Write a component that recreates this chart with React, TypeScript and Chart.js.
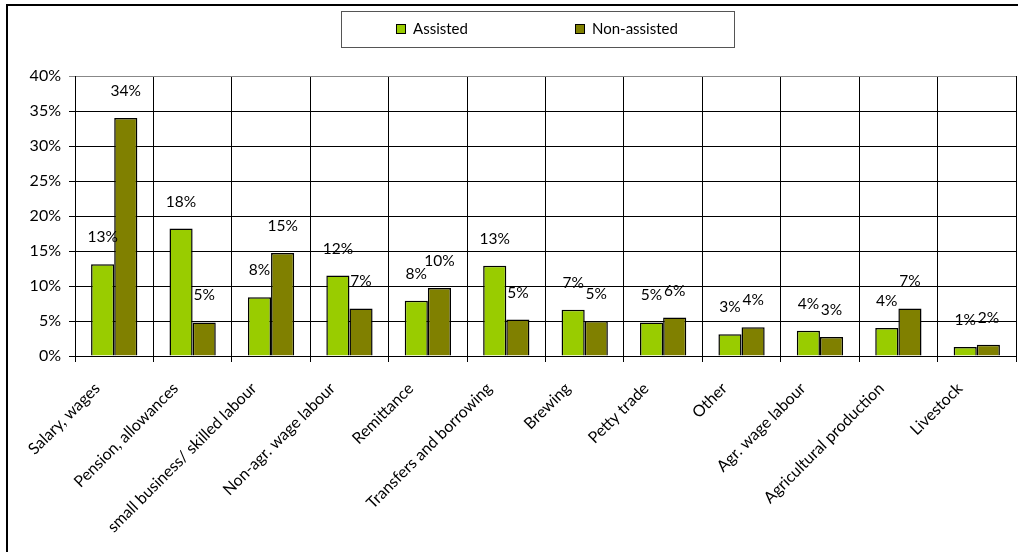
import React, { useEffect, useRef } from "react";
import { Chart, registerables } from "chart.js";

Chart.register(...registerables);

const categories = [
  "Salary, wages",
  "Pension, allowances",
  "small business/ skilled labour",
  "Non-agr. wage labour",
  "Remittance",
  "Transfers and borrowing",
  "Brewing",
  "Petty trade",
  "Other",
  "Agr. wage labour",
  "Agricultural production",
  "Livestock",
];
const seriesNames = ["Assisted", "Non-assisted"];
const assisted = [13.1, 18.2, 8.4, 11.5, 7.9, 12.9, 6.6, 4.8, 3.1, 3.6, 4.0, 1.3];
const nonAssisted = [34.0, 4.8, 14.7, 6.8, 9.7, 5.2, 5.0, 5.5, 4.1, 2.7, 6.8, 1.6];
const yTicks = [0, 5, 10, 15, 20, 25, 30, 35, 40];

const FONT = 'Lato, "Gill Sans", "Open Sans", sans-serif';
const COLORS = ["#99CC00", "#808000"];

const valueLabels = {
  id: "valueLabels",
  afterDatasetsDraw(chart: any) {
    const ctx = chart.ctx;
    ctx.save();
    ctx.font = `15.5px ${FONT}`;
    ctx.fillStyle = "#000";
    ctx.textAlign = "center";
    ctx.textBaseline = "middle";
    chart.data.datasets.forEach((ds: any, di: number) => {
      const meta = chart.getDatasetMeta(di);
      meta.data.forEach((bar: any, i: number) => {
        const v = ds.data[i];
        ctx.fillText(Math.round(v) + "%", bar.x, bar.y - 27);
      });
    });
    ctx.restore();
  },
};

const boxLegend = {
  id: "boxLegend",
  afterDraw(chart: any) {
    const ctx = chart.ctx;
    const left = 341, top = 11, w = 393, h = 36;
    ctx.save();
    ctx.fillStyle = "#fff";
    ctx.fillRect(left, top, w, h);
    ctx.strokeStyle = "#555";
    ctx.lineWidth = 1;
    ctx.strokeRect(left + 0.5, top + 0.5, w, h);
    ctx.font = `15px ${FONT}`;
    ctx.textBaseline = "middle";
    ctx.textAlign = "left";
    const offsets = [55, 234];
    chart.data.datasets.forEach((ds: any, i: number) => {
      const x = left + offsets[i];
      const y = top + 18;
      ctx.fillStyle = ds.backgroundColor;
      ctx.fillRect(x, y - 5, 9, 9);
      ctx.strokeStyle = "#000";
      ctx.strokeRect(x + 0.5, y - 4.5, 9, 9);
      ctx.fillStyle = "#000";
      ctx.fillText(ds.label, x + 17, y);
    });
    ctx.restore();
  },
};

export default function App() {
  const ref = useRef<HTMLCanvasElement>(null);
  useEffect(() => {
    const chart = new Chart(ref.current!, {
      type: "bar",
      data: {
        labels: categories,
        datasets: [
          {
            label: seriesNames[0],
            data: assisted,
            backgroundColor: COLORS[0],
            borderColor: "#000",
            borderWidth: 1.5,
          },
          {
            label: seriesNames[1],
            data: nonAssisted,
            backgroundColor: COLORS[1],
            borderColor: "#000",
            borderWidth: 1.5,
          },
        ],
      },
      options: {
        animation: false,
        responsive: false,
        maintainAspectRatio: false,
        layout: { padding: { top: 76, right: 2, left: 0, bottom: 0 } },
        datasets: { bar: { categoryPercentage: 0.59, barPercentage: 1 } },
        plugins: {
          legend: { display: false },
          tooltip: { enabled: false },
        },
        scales: {
          x: {
            afterFit: (s: any) => {
              s.height = 196;
            },
            grid: {
              offset: true,
              color: (c: any) => (c.index === categories.length ? "#888" : "#000"),
              tickLength: 6,
              lineWidth: 1,
            },
            border: { color: "#000", width: 1 },
            ticks: {
              autoSkip: false,
              minRotation: 45,
              maxRotation: 45,
              color: "#000",
              font: { family: FONT, size: 16 },
              padding: 17,
              labelOffset: -17,
            },
          },
          y: {
            min: 0,
            max: 40,
            afterFit: (s: any) => {
              s.width = 75;
            },
            afterBuildTicks: (s: any) => {
              s.ticks = yTicks.map((v) => ({ value: v }));
            },
            grid: {
              color: (c: any) => (c.tick && c.tick.value === 40 ? "#888" : "#000"),
              tickLength: 6,
              lineWidth: 1,
            },
            border: { color: "#000", width: 1 },
            ticks: {
              color: "#000",
              font: { family: FONT, size: 16 },
              padding: 8,
              callback: (v: any) => v + "%",
            },
          },
        },
      },
      plugins: [valueLabels, boxLegend],
    });
    return () => chart.destroy();
  }, []);

  return (
    <div
      style={{
        position: "fixed",
        left: 0,
        top: 0,
        width: 1018,
        height: 552,
        overflow: "hidden",
        background: "#fff",
      }}
    >
      <div
        style={{
          position: "absolute",
          left: 6,
          top: 4,
          width: 1100,
          height: 700,
          border: "2px solid #000",
          boxSizing: "border-box",
        }}
      />
      <canvas
        ref={ref}
        width={1018}
        height={552}
        style={{ position: "absolute", left: 0, top: 0, width: 1018, height: 552 }}
      />
    </div>
  );
}
